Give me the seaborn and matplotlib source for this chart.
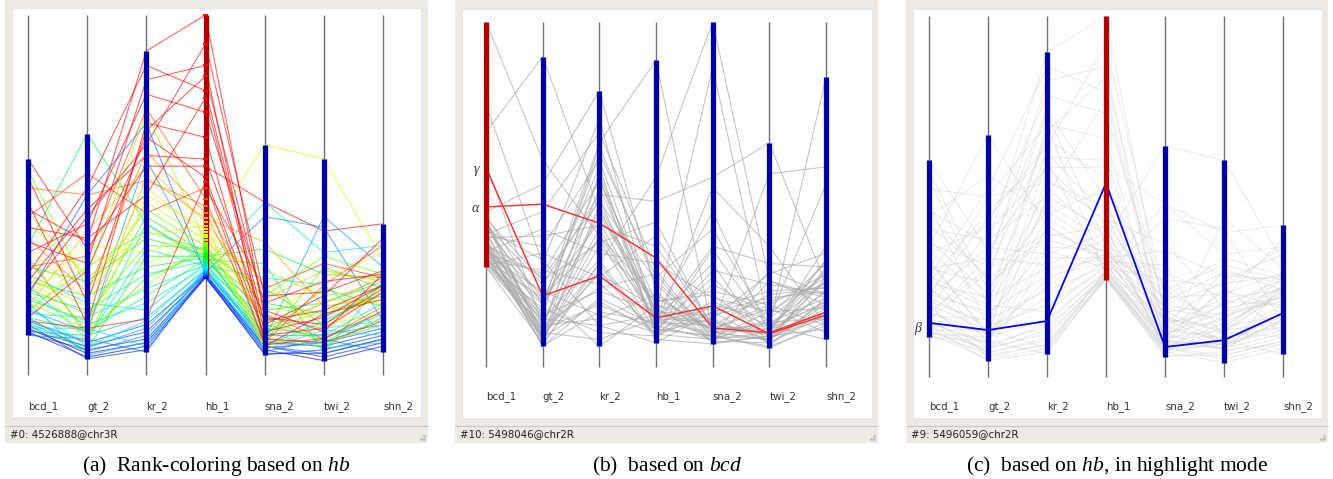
import numpy as np
import pandas as pd
import matplotlib
matplotlib.use("Agg")
import matplotlib.pyplot as plt
import seaborn as sns
from matplotlib.colors import LinearSegmentedColormap
from matplotlib.patches import Rectangle

sns.set_theme(style="white")
plt.rcParams["font.family"] = ["DejaVu Sans"]
plt.rcParams["mathtext.fontset"] = "custom"
plt.rcParams["mathtext.rm"] = "Liberation Serif"
plt.rcParams["mathtext.it"] = "Liberation Serif:italic"

# ---------------- data ----------------
dims = ["bcd_1", "gt_2", "kr_2", "hb_1", "sna_2", "twi_2", "shn_2"]

# dataset shown in panels (a) and (c); values in % of axis height; last entry = line beta
bcd_a = [12, 13, 11.5, 14, 12.5, 15, 22, 11, 16, 18, 14.5, 12, 20, 13,
         19, 22, 25, 17, 28, 15, 23, 16,
         36, 26, 14, 30, 21, 33, 18, 24, 57, 20,
         42, 27, 17, 35, 22, 29, 45, 19, 32,
         38, 52, 30, 44, 16, 60, 26, 48, 34, 41, 28, 55, 37, 23, 46, 15]
gt_a = [5, 6, 7, 4.5, 8, 9, 50, 10, 6.5, 12, 7.5, 11, 5.5, 13,
        8, 14, 10, 16, 20, 9.5, 18, 12,
        67, 22, 7, 26, 15, 11, 30, 17, 24, 13,
        28, 19, 33, 21, 36, 9, 27, 40, 12,
        23, 50, 33, 56, 29, 35, 46, 14, 42, 38, 52, 20, 31, 44, 37, 13]
kr_a = [8, 9, 10, 7, 12, 14, 70, 6.4, 11, 60, 13, 16, 9, 8,
        15, 20, 35, 24, 18, 42, 28, 22,
        42, 30, 33, 38, 44, 27, 40, 36, 46, 25,
        73, 48, 31, 52, 34, 50, 39, 58, 55,
        62, 54, 74, 45, 66, 58, 61, 70, 78, 50, 86, 68, 82, 64, 90, 15.5]
hb_a = [27, 27.2, 27.4, 27.5, 27.7, 27.9, 28.1, 28.3, 28.5, 28.7, 28.9, 29.1, 29.3, 29.5,
        29.7, 30, 30.3, 30.6, 31, 31.3, 31.6, 32,
        32.3, 32.6, 33, 33.4, 33.8, 34.2, 34.7, 35.2, 35.7, 36.2,
        36.8, 37.5, 38.2, 39, 39.8, 40.6, 41.5, 42.5, 43.5,
        45, 47, 49, 52, 55, 58, 60, 66, 73, 77, 79, 83, 86, 92, 100, 53.7]
sna_a = [7, 6, 8, 5.6, 9, 7.5, 8, 6.5, 44, 10, 11, 9.5, 12, 7,
         16, 10, 27, 48, 13, 8, 18, 31,
         14, 20, 35, 11, 24, 9, 16, 22, 12, 29,
         10, 19, 64, 8.5, 26, 15, 7, 21, 37,
         13, 17, 9, 24, 11, 48, 15, 10, 20, 12, 14, 18, 8, 22, 16, 8.3]
twi_a = [4, 6, 5, 7, 8, 9, 6, 10, 41, 44, 11, 8, 7.5, 12.5,
         13, 9, 25, 34, 11, 15, 20, 6,
         10, 17, 28, 24, 14, 30, 9, 33, 18, 22,
         8, 16, 60, 21, 12, 27, 14, 29, 19,
         20, 10, 25, 31, 13, 40, 18, 9, 26, 16, 22, 12, 17, 23, 14, 10.2]
shn_a = [8, 10, 9, 11, 12, 13, 10, 6.4, 15, 30, 14, 16, 9, 11,
         15, 18, 12, 36, 20, 23, 26, 26,
         17, 22, 27, 19, 25, 24, 14, 28, 21, 24,
         16, 29, 32, 20, 24, 34, 17, 26, 22,
         27, 19, 36, 27, 23, 42, 25, 15, 28, 25, 38, 28, 21, 29, 24, 17.7]
beta_line = 56

# dataset shown in panel (b); last two entries = lines alpha and gamma
bcd_b = [100, 76, 68, 59, 45, 44, 43, 42, 41, 40, 39, 38, 37, 36.5, 36, 35.5, 35, 34.5, 34, 33.5,
         33, 32.5, 32, 31.5, 31, 30.5, 30, 29.5, 29, 29, 38.5, 41.5, 33, 36, 31, 43, 35, 30, 40, 34,
         32, 37.5, 29.5, 36, 33, 39, 31, 42.5, 46.4, 57.7]
gt_b = [60, 30, 90, 12, 53, 18, 9, 15, 24, 20, 7, 35, 11, 8, 14, 26, 6, 19, 10, 40,
        13, 22, 8, 16, 28, 9, 17, 33, 7, 12, 45, 10, 6.5, 21, 11, 25, 8.5, 15, 31, 18,
        9.5, 38, 14, 6, 27, 12, 20, 8, 47.2, 20.6]
kr_b = [38, 72, 45, 55, 80, 65, 30, 22, 50, 42, 28, 60, 18, 35, 12, 48, 20, 58, 8, 33,
        44, 15, 38, 62, 24, 52, 10, 26, 46, 14, 68, 40, 30, 6, 56, 36, 19, 64, 12, 49,
        27, 41, 31, 16, 54, 23, 37, 47, 41.7, 26.4]
hb_b = [14, 12, 18, 10, 22, 89, 55, 16, 48, 13, 9, 15, 11, 19, 7, 25, 12, 9.5, 14, 30,
        17, 10, 20, 26, 11, 16, 9, 38, 13, 21, 28, 12, 8, 18, 14, 42, 10, 24, 15, 11,
        17, 35, 9, 13, 19, 27, 10, 16, 31.6, 14.2]
sna_b = [9, 8, 11, 14, 7, 10, 100, 87, 55, 12, 18, 45, 9, 22, 16, 10, 35, 8, 13, 20,
         7.5, 28, 11, 40, 9, 15, 24, 12, 17, 10, 8, 52, 6.7, 14, 30, 11, 19, 9, 13, 26,
         8.5, 12, 16, 10, 21, 7, 34, 11, 11.3, 17.7]
twi_b = [8, 10, 12, 7, 9, 11, 25, 12, 65, 56, 14, 10, 6, 18, 20, 8, 30, 13, 9, 16,
         7, 24, 11, 12, 5.5, 19, 15, 10, 22, 8, 14, 35, 9, 27, 6, 17, 12, 28, 8, 10,
         16, 21, 7, 13, 9, 25, 11, 18, 9.9, 9.6]
shn_b = [18, 22, 25, 16, 14, 19, 20, 84, 24, 58, 53, 31, 12, 27, 22, 17, 29, 20, 11, 26,
         15, 21, 28, 18, 13, 24, 30, 16, 23, 19, 27, 12, 25, 33, 20, 10, 8, 21, 26, 35,
         17, 23, 29, 14, 22, 18, 31, 12, 15.9, 15.1]
alpha_line, gamma_line = 48, 49

status_texts = ["#0: 4526888@chr3R", "#10: 5498046@chr2R", "#9: 5496059@chr2R"]
captions = [r"(a)  Rank-coloring based on $\mathit{hb}$",
            r"(b)  based on $\mathit{bcd}$",
            r"(c)  based on $\mathit{hb}$, in highlight mode"]


def to_long(cols):
    wide = pd.DataFrame(dict(zip(dims, cols)))
    wide["line"] = np.arange(len(wide))
    long = wide.melt(id_vars="line", var_name="dim", value_name="value")
    long["pos"] = long["dim"].map({d: i for i, d in enumerate(dims)})
    return wide, long


wide_a, long_a = to_long([bcd_a, gt_a, kr_a, hb_a, sna_a, twi_a, shn_a])
wide_b, long_b = to_long([bcd_b, gt_b, kr_b, hb_b, sna_b, twi_b, shn_b])

# ---------------- figure ----------------
W, H = 1333, 479
fig = plt.figure(figsize=(W / 100, H / 100), dpi=100)
bg = fig.add_axes([0, 0, 1, 1])
bg.set_xlim(0, W)
bg.set_ylim(H, 0)
bg.axis("off")

FRAME = "#edeae6"
BLUE_BAR = "#0000a6"
RED_BAR = "#b00000"

frames = [  # outer x0, x1, white x0, x1, white y0, y1
    (5, 428, 12, 421, 8, 417),
    (455, 878, 462, 872, 9, 418),
    (906, 1328, 913, 1322, 9, 418),
]
cap_x = [216, 667, 1117]

for i, (ox0, ox1, wx0, wx1, wy0, wy1) in enumerate(frames):
    bg.add_patch(Rectangle((ox0, 0), ox1 - ox0, 443, color=FRAME, lw=0))
    bg.add_patch(Rectangle((wx0, wy0), wx1 - wx0, wy1 - wy0, facecolor="white",
                           edgecolor="#e6e3df", lw=0.6))
    bg.plot([ox0, ox1], [425.5, 425.5], color="#cbc6c0", lw=0.8)
    bg.text(ox0 + 5, 434, status_texts[i], ha="left", va="center", fontsize=7.4,
            color="#202020")
    bg.text(cap_x[i], 466, captions[i], ha="center", va="center", fontsize=15.5,
            family="Liberation Serif", color="black")
    # resize grip dots
    for gx, gy in [(ox1 - 4, 439), (ox1 - 7, 439), (ox1 - 4, 436)]:
        bg.plot(gx, gy, marker="s", ms=0.9, color="#c2bdb7", lw=0)


def panel_axes(x0, x6, ytop, ybot):
    ax = fig.add_axes([x0 / W, 1 - ybot / H, (x6 - x0) / W, (ybot - ytop) / H])
    ax.set_facecolor("none")
    ax.vlines(range(len(dims)), 0, 100, color="#707070", lw=1.0, zorder=1, clip_on=False)
    return ax


def finish(ax, wide, pad, bar_colors):
    for i, d in enumerate(dims):
        ax.vlines(i, wide[d].min(), wide[d].max(), color=bar_colors[i], lw=3.8,
                  zorder=4, clip_on=False)
    ax.set_xlim(0, 6)
    ax.set_ylim(0, 100)
    ax.set_xticks(range(len(dims)))
    ax.set_xticklabels(dims, ha="left")
    ax.tick_params(axis="x", length=0, pad=pad, labelsize=7.4, labelcolor="#333333")
    ax.set_yticks([])
    ax.set_xlabel("")
    ax.set_ylabel("")
    for s in ax.spines.values():
        s.set_visible(False)


# ---- panel (a): rank colouring on hb ----
rank_cmap = LinearSegmentedColormap.from_list(
    "rank", [(0, "#0000ff"), (0.25, "#00e5ff"), (0.45, "#00ff00"),
             (0.65, "#ffff00"), (0.82, "#ff0000"), (1, "#ff0000")])
n_a = len(wide_a)
rank_a = wide_a["hb_1"].rank(method="first") - 1
long_a["rank"] = long_a["line"].map(rank_a)

ax_a = panel_axes(28, 383, 15, 375)
sns.lineplot(data=long_a, x="pos", y="value", units="line", estimator=None,
             hue="rank", palette=rank_cmap, hue_norm=(0, n_a - 1), legend=False,
             lw=0.8, alpha=0.6, sort=True, ax=ax_a, zorder=2)
bars_a = [BLUE_BAR] * 7
bars_a[3] = RED_BAR
finish(ax_a, wide_a, 18.5, bars_a)
ax_a.scatter(np.full(n_a, 3), wide_a["hb_1"], c=rank_cmap(rank_a / (n_a - 1)),
             marker="_", s=10, lw=1.4, zorder=5, clip_on=False)

# ---- panel (b): based on bcd ----
ax_b = panel_axes(486, 826, 22, 367)
sns.lineplot(data=long_b[~long_b["line"].isin([alpha_line, gamma_line])], x="pos",
             y="value", units="line", estimator=None, color="#a8a8a8", lw=0.8,
             alpha=0.65, ax=ax_b, zorder=2)
sns.lineplot(data=long_b[long_b["line"].isin([alpha_line, gamma_line])], x="pos",
             y="value", units="line", estimator=None, color="#ff2a2a", lw=1.0,
             ax=ax_b, zorder=3)
bars_b = [BLUE_BAR] * 7
bars_b[0] = RED_BAR
finish(ax_b, wide_b, 17.3, bars_b)
for lbl, idx in [("γ", gamma_line), ("α", alpha_line)]:
    ax_b.annotate(lbl, xy=(0, wide_b.loc[idx, "bcd_1"]), xytext=(-5, -1),
                  textcoords="offset points", ha="right", va="center", fontsize=10,
                  family="Liberation Serif", style="italic", color="#333333",
                  annotation_clip=False)

# ---- panel (c): highlight mode based on hb ----
ax_c = panel_axes(929, 1283, 16, 377)
sns.lineplot(data=long_a[long_a["line"] != beta_line], x="pos", y="value",
             units="line", estimator=None, color="#c8c8c8", lw=0.8, alpha=0.32,
             ax=ax_c, zorder=2)
sns.lineplot(data=long_a[long_a["line"] == beta_line], x="pos", y="value",
             color="#0000ff", lw=1.3, ax=ax_c, zorder=3)
finish(ax_c, wide_a, 17.3, bars_a)
ax_c.annotate("β", xy=(0, wide_a.loc[beta_line, "bcd_1"]), xytext=(-6, -4),
              textcoords="offset points", ha="right", va="center", fontsize=10,
              family="Liberation Serif", style="italic", color="#333333",
              annotation_clip=False)

fig.savefig("out.png", dpi=100)
